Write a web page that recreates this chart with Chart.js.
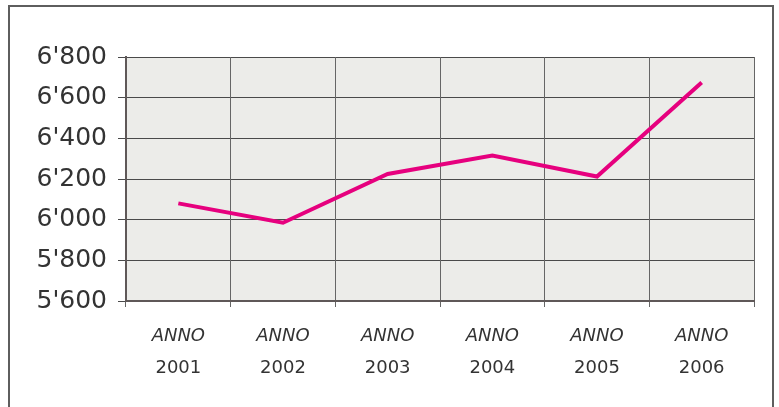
<!DOCTYPE html>
<html lang="it">
<head>
  <meta charset="UTF-8" />
  <title>Andamento 2001-2006</title>
  <script src="https://cdn.jsdelivr.net/npm/chart.js"></script>
  <style>
    body {
      margin: 0;
      padding: 0;
      background: #ffffff;
    }
    .frame {
      position: absolute;
      left: 8px;
      top: 5px;
      width: 762px;
      height: 420px;
      border: 2px solid #5e5e5e;
    }
    .wrap {
      position: absolute;
      left: 0;
      top: 0;
      width: 779px;
      height: 407px;
    }
  </style>
</head>
<body>
  <div class="frame"></div>
  <div class="wrap"><canvas id="chart" width="779" height="407"></canvas></div>

  <script>
    const years = ['2001', '2002', '2003', '2004', '2005', '2006'];
    const prefix = 'ANNO';
    const values = [6080, 5985, 6225, 6315, 6212, 6675];
    const yMin = 5600, yMax = 6800, yStep = 200;

    // sfondo grigio dell'area del grafico
    const plotBg = {
      id: 'plotBg',
      beforeDraw(chart) {
        const { ctx, chartArea: a } = chart;
        ctx.save();
        ctx.fillStyle = '#ecece9';
        ctx.fillRect(a.left, a.top, a.right - a.left, a.bottom - a.top);
        ctx.restore();
      }
    };

    function fmt(v) {
      const s = String(v);
      return s.slice(0, s.length - 3) + "'" + s.slice(-3);
    }

    new Chart(document.getElementById('chart'), {
      type: 'line',
      data: {
        labels: years,
        datasets: [{
          data: values,
          borderColor: '#e6007e',
          borderWidth: 4,
          pointRadius: 0,
          tension: 0,
          xAxisID: 'x'
        }]
      },
      options: {
        responsive: false,
        animation: false,
        layout: { padding: { top: 57, right: 25, left: 0, bottom: 0 } },
        plugins: { legend: { display: false }, tooltip: { enabled: false } },
        scales: {
          y: {
            min: yMin,
            max: yMax,
            ticks: {
              stepSize: yStep,
              padding: 11,
              color: '#333',
              font: { family: 'DejaVu Sans', size: 25 },
              callback: v => fmt(v)
            },
            grid: { color: '#4a4a4a', tickLength: 8, lineWidth: 1 },
            border: { color: '#5f5858', width: 2 },
            afterFit: s => { s.width = 126; }
          },
          x: {
            offset: true,
            ticks: {
              padding: 19,
              color: '#333',
              font: { family: 'DejaVu Sans', size: 18, style: 'italic' },
              callback: () => prefix
            },
            grid: { offset: true, color: '#666', tickLength: 6, lineWidth: 1 },
            border: { color: '#5f5858', width: 2 },
            afterFit: s => { s.height = 42; }
          },
          x2: {
            type: 'category',
            position: 'bottom',
            labels: years,
            offset: true,
            ticks: {
              padding: 15,
              color: '#333',
              font: { family: 'DejaVu Sans', size: 18 }
            },
            grid: { display: false, drawTicks: false },
            border: { display: false },
            afterFit: s => { s.height = 64; }
          }
        }
      },
      plugins: [plotBg]
    });
  </script>
</body>
</html>
